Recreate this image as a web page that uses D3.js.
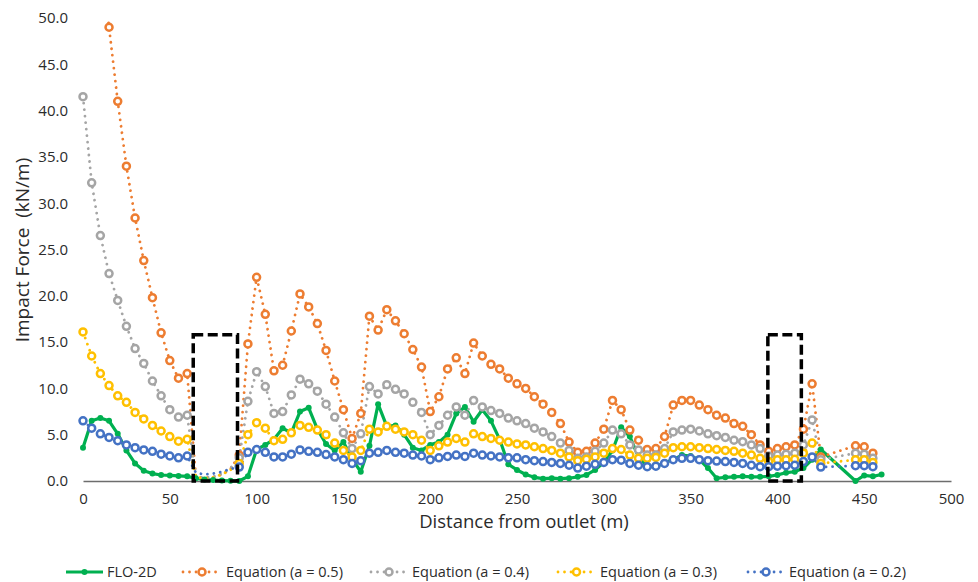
<!DOCTYPE html>
<html>
<head>
<meta charset="utf-8">
<script src="https://cdn.jsdelivr.net/npm/d3@7"></script>
<style>
  html, body { margin: 0; padding: 0; background: #fff; }
  svg { display: block; font-family: "Open Sans", "Noto Sans", sans-serif; }
</style>
</head>
<body>
<svg id="chart" width="978" height="582"></svg>
<script>
// ---------- DATA ----------
const yTicks = [0, 5, 10, 15, 20, 25, 30, 35, 40, 45, 50];
const xTicks = [0, 50, 100, 150, 200, 250, 300, 350, 400, 450, 500];

// FLO-2D simulated impact force
const floDistance = [0,5,10,15,20,25,30,35,40,45,50,55,60,65,70,75,80,85,90,95,100,105,110,115,120,125,130,135,140,145,150,155,160,165,170,175,180,185,190,195,200,205,210,215,220,225,230,235,240,245,250,255,260,265,270,275,280,285,290,295,300,305,310,315,320,325,330,335,340,345,350,355,360,365,370,375,380,385,390,395,400,405,410,415,420,425,445,450,455,460];
const floValues = [3.6,6.5,6.8,6.5,5.1,3.3,1.9,1.1,0.8,0.65,0.6,0.55,0.5,0.3,0.15,0.1,0.05,0.02,0.0,0.5,3.4,3.9,4.5,5.7,5.2,7.5,7.9,5.6,4.0,3.3,4.2,2.4,1.0,3.8,8.3,5.9,6.0,5.0,3.6,3.3,3.9,4.2,5.0,7.3,8.0,6.4,7.7,6.5,4.5,1.8,1.2,0.7,0.4,0.25,0.3,0.25,0.3,0.45,0.65,1.2,2.0,3.3,5.8,4.8,2.6,1.6,1.5,2.0,2.3,2.8,2.7,2.3,1.4,0.3,0.4,0.45,0.5,0.45,0.45,0.5,0.65,0.9,1.0,1.4,2.3,3.4,0.0,0.6,0.5,0.7];

// Equation series share the same distances
const eqDistance = [0,5,10,15,20,25,30,35,40,45,50,55,60,65,70,75,80,85,90,95,100,105,110,115,120,125,130,135,140,145,150,155,160,165,170,175,180,185,190,195,200,205,210,215,220,225,230,235,240,245,250,255,260,265,270,275,280,285,290,295,300,305,310,315,320,325,330,335,340,345,350,355,360,365,370,375,380,385,390,395,400,405,410,415,420,425,445,450,455];
const eqA05 = [100,72,58,49.0,41.0,34.0,28.4,23.8,19.8,16.0,13.0,11.1,11.6,0.5,0.3,0.4,0.7,1.3,2.8,14.8,22.0,18.0,11.9,12.5,16.2,20.2,18.8,17.0,14.1,10.8,7.7,4.6,7.3,17.8,16.3,18.5,17.3,15.9,14.2,12.3,7.5,9.1,12.1,13.3,11.6,14.9,13.5,12.6,12.1,11.1,10.5,10.0,9.1,8.3,7.4,6.2,4.2,3.1,3.2,4.1,5.6,8.7,7.7,5.5,4.4,3.4,3.5,4.8,8.2,8.7,8.7,8.2,7.7,7.1,6.8,6.2,5.9,5.0,3.9,3.2,3.5,3.7,3.9,5.6,10.5,2.6,3.8,3.7,3.0];
const eqA04 = [41.5,32.2,26.5,22.4,19.5,16.7,14.3,12.7,10.8,9.2,7.7,6.9,7.1,0.5,0.35,0.45,0.8,1.4,2.5,8.6,11.8,10.2,7.3,7.5,9.3,11.0,10.5,9.7,8.3,6.9,5.2,3.5,5.1,10.2,9.4,10.4,9.9,9.4,8.5,7.4,5.0,6.0,7.1,8.0,7.1,8.7,8.0,7.6,7.3,6.8,6.5,6.2,5.7,5.3,4.8,4.1,3.3,2.45,2.6,3.2,4.1,5.5,5.1,3.9,3.35,2.8,2.8,3.5,5.3,5.5,5.6,5.4,5.1,4.9,4.7,4.4,4.25,3.9,3.5,2.7,2.8,2.9,3.0,3.9,6.6,2.3,3.0,2.9,2.45];
const eqA03 = [16.1,13.5,11.6,10.3,9.2,8.5,7.4,6.7,6.0,5.4,4.8,4.3,4.5,0.4,0.3,0.4,0.7,1.2,1.9,5.0,6.3,5.7,4.35,4.5,5.2,6.0,5.8,5.5,5.0,4.1,3.3,2.6,3.3,5.6,5.3,5.9,5.6,5.3,5.0,4.4,3.3,3.8,4.2,4.6,4.2,5.1,4.8,4.6,4.4,4.2,4.0,3.9,3.7,3.5,3.3,3.0,2.6,2.2,2.35,2.6,3.0,3.5,3.4,2.8,2.45,2.45,2.55,3.0,3.6,3.7,3.7,3.6,3.5,3.4,3.3,3.2,3.0,2.8,2.45,2.1,2.3,2.3,2.35,3.0,4.1,1.9,2.3,2.3,2.0];
const eqA02 = [6.5,5.7,5.1,4.7,4.35,3.9,3.6,3.35,3.2,2.9,2.7,2.5,2.7,0.9,0.7,0.8,1.0,1.3,1.5,3.1,3.4,3.1,2.6,2.6,2.9,3.35,3.2,3.1,2.85,2.6,2.3,1.9,2.2,3.0,3.1,3.3,3.1,3.0,2.8,2.7,2.3,2.5,2.65,2.8,2.65,3.0,2.8,2.7,2.6,2.5,2.5,2.3,2.2,2.1,2.0,1.9,1.7,1.4,1.6,1.8,2.0,2.3,2.25,1.9,1.7,1.55,1.6,1.9,2.3,2.45,2.45,2.3,2.2,2.15,2.1,2.0,1.9,1.7,1.55,1.55,1.6,1.65,1.7,2.1,2.6,1.5,1.65,1.65,1.55];

const seriesNames = ["FLO-2D", "Equation (a = 0.5)", "Equation (a = 0.4)", "Equation (a = 0.3)", "Equation (a = 0.2)"];
const seriesColors = ["#00B050", "#ED7D31", "#A5A5A5", "#FFC000", "#4472C4"];

// dashed annotation boxes (check dam locations): [start m, end m, top kN/m]
const boxStart = [63.5, 394.5];
const boxEnd = [89, 413.8];
const boxTop = [15.8, 15.8];

// ---------- CHART ----------
const svg = d3.select("#chart");
const x = d3.scaleLinear().domain([0, 500]).range([83, 951]);
const y = d3.scaleLinear().domain([0, 50]).range([481, 18]);

svg.append("defs").append("clipPath").attr("id", "plotClip")
  .append("rect").attr("x", 70).attr("y", y(50)).attr("width", 900).attr("height", y(0) - y(50) + 12);

// Y axis labels
const yAxis = d3.axisLeft(y).tickValues(yTicks).tickFormat(d3.format(".1f")).tickSize(0).tickPadding(0);
const gy = svg.append("g").attr("transform", "translate(68,0)").call(yAxis);
gy.select(".domain").remove();
gy.selectAll("text").attr("font-size", 15).attr("fill", "#2b2b2b").attr("font-family", "Open Sans, sans-serif");

// X axis
const xAxis = d3.axisBottom(x).tickValues(xTicks).tickFormat(d3.format("d")).tickSize(0).tickPadding(0);
const gx = svg.append("g").attr("transform", "translate(0," + y(0) + ")").call(xAxis);
gx.select(".domain").attr("stroke", "#6d6d6d").attr("stroke-width", 1.5);
gx.selectAll("text").attr("font-size", 15).attr("fill", "#2b2b2b").attr("dy", "1.55em").attr("font-family", "Open Sans, sans-serif");

// Axis titles
svg.append("text").attr("x", 524).attr("y", 528).attr("text-anchor", "middle")
  .attr("font-size", 18.5).attr("fill", "#2b2b2b").text("Distance from outlet (m)");
svg.append("text").attr("transform", "translate(29,250) rotate(-90)").attr("text-anchor", "middle")
  .attr("font-size", 19).attr("fill", "#2b2b2b").attr("xml:space", "preserve").style("white-space", "pre").text("Impact Force  (kN/m)");

const plot = svg.append("g");
const lines = plot.append("g").attr("clip-path", "url(#plotClip)");

// FLO-2D
const floData = floDistance.map((d, i) => ({ d, v: floValues[i] }));
const line = d3.line().x(p => x(p.d)).y(p => y(p.v));
lines.append("path").datum(floData).attr("d", line)
  .attr("fill", "none").attr("stroke", seriesColors[0]).attr("stroke-width", 3.2).attr("stroke-linejoin", "round");
plot.append("g").selectAll("circle").data(floData).join("circle")
  .attr("cx", p => x(p.d)).attr("cy", p => y(p.v)).attr("r", 3).attr("fill", seriesColors[0]);

// Equation series
const eqSeries = [eqA05, eqA04, eqA03, eqA02];
eqSeries.forEach((vals, k) => {
  const color = seriesColors[k + 1];
  const data = eqDistance.map((d, i) => ({ d, v: vals[i] }));
  lines.append("path").datum(data).attr("d", line)
    .attr("fill", "none").attr("stroke", color).attr("stroke-width", 2.8)
    .attr("stroke-dasharray", "0.01 6.5").attr("stroke-linecap", "round");
  // markers are not shown inside the first dam box
  const shown = data.filter(p => p.v <= 50 && !(p.d > boxStart[0] && p.d < boxEnd[0]));
  plot.append("g").selectAll("circle").data(shown).join("circle")
    .attr("cx", p => x(p.d)).attr("cy", p => y(p.v)).attr("r", 3.5)
    .attr("fill", "#fff").attr("stroke", color).attr("stroke-width", 2.5);
});

// Dashed boxes
boxStart.forEach((s, i) => {
  svg.append("rect")
    .attr("x", x(s)).attr("y", y(boxTop[i]))
    .attr("width", x(boxEnd[i]) - x(s)).attr("height", y(0) - y(boxTop[i]))
    .attr("fill", "none").attr("stroke", "#000").attr("stroke-width", 3.5)
    .attr("stroke-dasharray", "10 4.5");
});

// Legend
const legendY = 572;
const legendItems = [
  { x0: 66, x1: 103, tx: 107 },
  { x0: 183, x1: 221, tx: 226 },
  { x0: 371, x1: 407, tx: 412 },
  { x0: 558, x1: 595, tx: 600 },
  { x0: 748, x1: 784, tx: 789 }
];
const lg = svg.append("g");
legendItems.forEach((it, i) => {
  const c = seriesColors[i];
  const cx = (it.x0 + it.x1) / 2;
  if (i === 0) {
    lg.append("line").attr("x1", it.x0).attr("x2", it.x1).attr("y1", legendY).attr("y2", legendY)
      .attr("stroke", c).attr("stroke-width", 3.2);
    lg.append("circle").attr("cx", cx).attr("cy", legendY).attr("r", 3).attr("fill", c);
  } else {
    lg.append("line").attr("x1", it.x0).attr("x2", it.x1).attr("y1", legendY).attr("y2", legendY)
      .attr("stroke", c).attr("stroke-width", 2.8).attr("stroke-dasharray", "0.01 6.5").attr("stroke-linecap", "round");
    lg.append("circle").attr("cx", cx).attr("cy", legendY).attr("r", 3.5)
      .attr("fill", "#fff").attr("stroke", c).attr("stroke-width", 2.5);
  }
  lg.append("text").attr("x", it.tx).attr("y", legendY).attr("dy", "0.35em")
    .attr("font-size", 14.5).attr("fill", "#2b2b2b").text(seriesNames[i]);
});
</script>
</body>
</html>
